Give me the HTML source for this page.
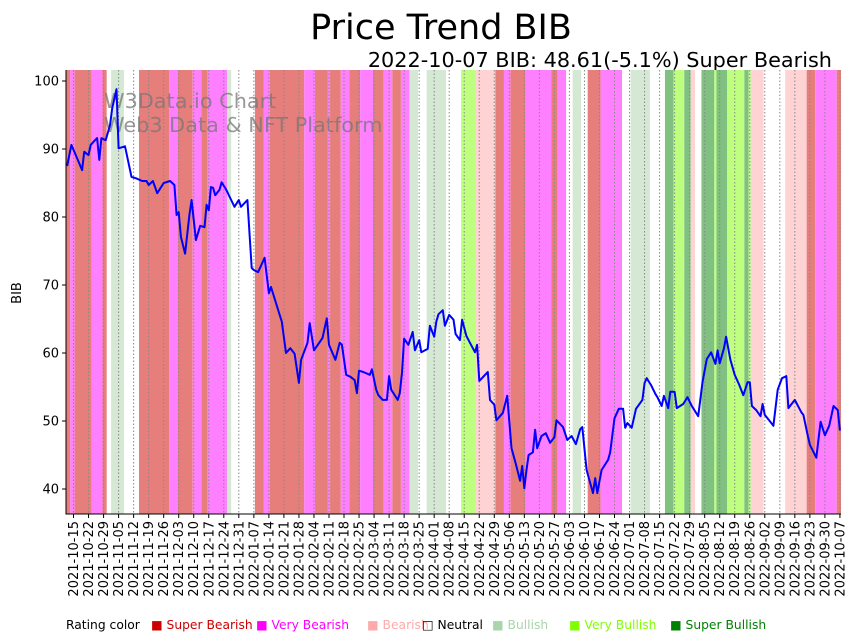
<!DOCTYPE html>
<html><head><meta charset="utf-8">
<style>
html,body{margin:0;padding:0;background:#fff;}
svg{display:block;font-family:"DejaVu Sans","Liberation Sans",sans-serif;}
</style></head>
<body>
<svg id="chart" width="857" height="641" viewBox="0 0 857 641">
<text x="441" y="39" text-anchor="middle" font-size="35" fill="#000">Price Trend BIB</text>
<text x="832" y="67" text-anchor="end" font-size="20.8" fill="#000">2022-10-07 BIB: 48.61(-5.1%) Super Bearish</text>
<g id="bands"></g>
<g id="grid"></g>
<text x="104" y="108" font-size="20.8" fill="#777" fill-opacity="0.75">W3Data.io Chart</text>
<text x="104" y="132" font-size="20.8" fill="#777" fill-opacity="0.75">Web3 Data &amp; NFT Platform</text>
<path id="line" fill="none" stroke="#0000ff" stroke-width="2" stroke-linejoin="round"></path>
<g id="axes"></g>
<text transform="translate(21,293) rotate(-90)" text-anchor="middle" font-size="13">BIB</text>
<g id="legend" font-size="12.3"></g>
</svg>
<script>
const startDate = "2021-10-12";
const ratingNames = ["Super Bearish","Very Bearish","Bearish","Neutral","Bullish","Very Bullish","Super Bullish"];
const ratingColors = ["#e67e7b","#ff80ff","#ffd3d3","#ffffff","#d5e8d4","#bfff80","#80c080"];
const legendTextColors = ["#cc0000","#ff00ff","#ffaaaa","#000000","#aad4aa","#80ff00","#008000"];
// band start day, rating index
const bandStarts = [0,2,4,12,17,19,21,27,34,48,52,59,63,66,75,77,88,92,95,111,116,122,123,128,132,137,143,148,152,156,160,164,168,177,184,191,200,204,207,214,226,229,233,236,240,243,249,259,263,272,279,283,288,291,293,296,302,303,308,316,318,319,325,335,345,349,359];
const bandRatings = [0,1,0,1,0,3,4,3,0,1,0,1,0,1,4,3,0,1,0,1,0,1,0,1,0,1,0,1,0,1,4,3,4,3,5,2,0,1,0,1,0,1,3,4,3,0,1,3,4,3,6,5,6,2,3,6,5,6,5,6,5,2,3,2,0,1,0];
const priceDays = [0,2,5,7,8,10,11,13,14,15,16,18,20,21,23,24,27,30,32,35,37,38,40,42,45,48,50,51,52,53,55,57,58,60,62,64,65,66,67,68,69,71,72,74,76,78,80,81,84,86,87,89,90,92,94,95,100,102,104,106,108,109,112,113,115,119,121,122,125,127,128,130,132,134,135,136,138,141,142,144,145,147,149,150,151,154,155,156,157,159,161,162,164,165,168,169,171,172,173,175,176,178,180,181,183,184,186,188,190,191,192,196,197,199,200,203,205,207,209,211,212,213,214,215,217,218,219,221,223,225,227,228,231,233,235,237,239,240,242,245,246,247,249,252,253,255,257,259,260,261,263,265,268,269,270,272,274,275,277,278,280,281,283,284,287,289,291,294,296,298,300,302,303,304,306,307,309,311,313,315,317,318,319,321,323,324,325,327,329,331,333,335,336,339,342,343,345,346,349,351,353,355,357,359,360];
const priceValues = [87.5,90.6,88.4,86.9,89.6,89.1,90.6,91.3,91.6,88.4,91.6,91.3,93.5,96,98.8,90.1,90.4,85.9,85.7,85.3,85.3,84.7,85.3,83.5,85,85.3,84.7,80.3,80.7,77.1,74.6,80.3,82.5,76.6,78.7,78.5,81.8,81,84.4,84.3,83.2,84,85.1,84.1,82.8,81.5,82.5,81.5,82.5,72.5,72.2,71.9,72.6,74,68.8,69.7,64.6,60,60.7,59.9,55.6,59,61.5,64.4,60.4,62.2,65.1,61.2,59,61.5,61.2,56.8,56.5,56,54.1,57.4,57.2,56.8,57.6,54.6,53.8,53.1,53.1,56.6,54.6,53.1,54.1,57.1,62.1,61.2,63.1,60.4,61.9,60.1,60.6,64,62.4,64.6,65.7,66.3,64,65.6,64.9,62.8,61.9,64.9,62.5,61.3,60.1,61.2,55.9,57.2,53.1,52.4,50.1,51.2,53.7,46,43.7,41.2,43.4,40.1,42.8,45,45.4,48.7,46,47.8,48.2,46.8,47.6,50.1,49.1,47.2,47.8,46.6,48.8,49.1,42.8,39.4,41.6,39.4,42.8,44.3,45.4,50.4,51.8,51.8,49,49.7,49,51.8,53.1,55.6,56.3,55.3,54,53.5,52.2,53.7,51.9,54.3,54.3,51.9,52.5,53.5,52.2,50.7,55.7,59.1,60.1,58.4,60.4,58.5,60.7,62.4,59,56.8,55.4,53.8,55.7,55.7,52.2,51.6,50.7,52.5,50.9,50.1,49.3,54.6,56.3,56.6,51.9,53.1,51.3,50.9,47.9,46.5,44.6,49.9,47.9,49.3,52.2,51.6,48.61];
const yTicks = [40,50,60,70,80,90,100];

const NS="http://www.w3.org/2000/svg";
const L=66,R=841,T=70,B=514;
const dMin=-0.5,dMax=360.5;
const x=d=>L+(d-dMin)/(dMax-dMin)*(R-L);
const y=v=>81+(100-v)*6.8;
function mk(tag,parent){const e=document.createElementNS(NS,tag);parent.appendChild(e);return e;}

const bands=document.getElementById('bands');
for(let i=0;i<bandStarts.length;i++){
  const s=bandStarts[i], e=(i+1<bandStarts.length?bandStarts[i+1]:361);
  const r=mk('rect',bands);
  
  
  r.setAttribute('x',x(s-0.5));r.setAttribute('y',T);
  r.setAttribute('width',x(e-0.5)-x(s-0.5));r.setAttribute('height',B-T);
  r.setAttribute('fill',ratingColors[bandRatings[i]]);
}

const tickDays=[],tickLabels=[];
const sd=new Date(startDate+"T00:00:00Z");
for(let d=3;d<=360;d+=7){tickDays.push(d);const dt=new Date(sd.getTime()+d*86400000);tickLabels.push(dt.toISOString().slice(0,10));}

const grid=document.getElementById('grid'),axes=document.getElementById('axes');
tickDays.forEach((d,i)=>{
  const g=mk('line',grid);
  
  
  g.setAttribute('x1',x(d));g.setAttribute('x2',x(d));g.setAttribute('y1',T);g.setAttribute('y2',B);
  g.setAttribute('stroke','#888');g.setAttribute('stroke-width','1');g.setAttribute('stroke-dasharray','1.5,2');
  const t=mk('line',axes);
  
  
  t.setAttribute('x1',x(d));t.setAttribute('x2',x(d));t.setAttribute('y1',B);t.setAttribute('y2',B+4);t.setAttribute('stroke','#000');
  const lb=mk('text',axes);
  
  
  lb.setAttribute('transform','translate('+(x(d)+4.5)+','+(B+7)+') rotate(-90)');
  lb.setAttribute('text-anchor','end');lb.setAttribute('font-size','13');
  lb.textContent=tickLabels[i];
});
yTicks.forEach(v=>{
  const t=mk('line',axes);
  
  
  t.setAttribute('x1',L-4);t.setAttribute('x2',L);t.setAttribute('y1',y(v));t.setAttribute('y2',y(v));t.setAttribute('stroke','#000');
  const lb=mk('text',axes);
  
  
  lb.setAttribute('x',L-7);lb.setAttribute('y',y(v)+4.5);lb.setAttribute('text-anchor','end');lb.setAttribute('font-size','13');
  lb.textContent=v;
});
const ax=mk('path',axes);


ax.setAttribute('d','M'+L+','+T+'V'+B+'H'+R);ax.setAttribute('stroke','#000');ax.setAttribute('fill','none');

document.getElementById('line').setAttribute('d',priceDays.map((d,i)=>(i?'L':'M')+x(d).toFixed(1)+','+y(priceValues[i]).toFixed(1)).join(''));

const lg=document.getElementById('legend');
const lt=mk('text',lg);


lt.setAttribute('x',66);lt.setAttribute('y',629);lt.textContent='Rating color';
const legX=[151,256,367,422,492,569,670];
ratingNames.forEach((n,i)=>{
  const t=mk('text',lg);
  
  
  t.setAttribute('x',legX[i]);t.setAttribute('y',629);t.setAttribute('fill',legendTextColors[i]);
  t.textContent=(i===3?'\u25A1 ':'\u25A0 ')+n;
});
</script>
</body></html>
